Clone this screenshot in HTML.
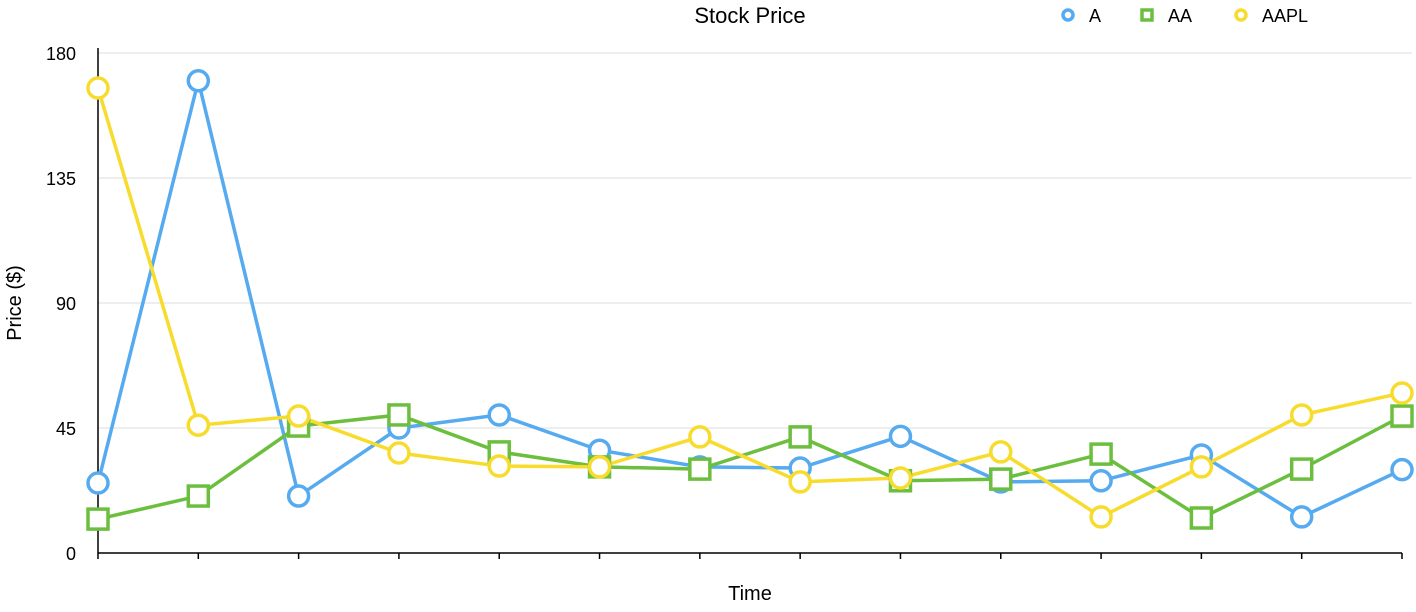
<!DOCTYPE html>
<html><head><meta charset="utf-8"><style>
body{margin:0;background:#fff;font-family:"Liberation Sans",sans-serif;}
svg text{font-family:"Liberation Sans",sans-serif;}
</style></head><body>
<svg id="chart" width="1416" height="607" xmlns="http://www.w3.org/2000/svg">
<text x="750" y="23" text-anchor="middle" font-size="22" fill="#000">Stock Price</text>
<text transform="translate(21,303) rotate(-90)" text-anchor="middle" font-size="20" fill="#000">Price ($)</text>
<text x="750" y="600" text-anchor="middle" font-size="20" fill="#000">Time</text>
<g id="grid"></g><g id="axes"></g><g id="series"></g><g id="legend"></g>
</svg>
<script>
const yTicks=[0,45,90,135,180];
const seriesNames=['A','AA','AAPL'];
const seriesColors=['#55aaf0','#6cbf3e','#f7dc2e'];
const seriesShapes=['circle','square','circle'];
const valuesA=[25.2,170,20.5,45,49.7,37,31,30.6,42,25.6,26,35.3,13,30];
const valuesAA=[12.2,20.5,45.7,49.7,36.4,31,30.2,41.8,26,26.6,35.6,12.6,30.2,49.3];
const valuesAAPL=[167.4,46,49.3,36,31.3,31,41.8,25.6,27,36.4,13,31,49.7,57.6];
const allValues=[valuesA,valuesAA,valuesAAPL];
const NS='http://www.w3.org/2000/svg';
const x0=98,x1=1402,y0=553,y1=53,yMax=180;
const n=valuesA.length;
function xs(i){return x0+i*(x1-x0)/(n-1);}
function ys(v){return y0-(v/yMax)*(y0-y1);}
function mk(t,a,p){const e=document.createElementNS(NS,t);for(const k in a)e.setAttribute(k,a[k]);p.appendChild(e);return e;}
const grid=document.getElementById('grid'),axes=document.getElementById('axes'),ser=document.getElementById('series'),leg=document.getElementById('legend');
yTicks.forEach(t=>{
  if(t>0){const g=mk('line',{x1:x0,x2:x1+10,y1:ys(t),y2:ys(t),stroke:'#dcdcdc','stroke-width':1},grid);
  
  }
  const l=mk('text',{x:76,y:ys(t)+7,'text-anchor':'end','font-size':18,fill:'#000'},axes);l.textContent=t;
  
  
});
const ya=mk('line',{x1:x0,x2:x0,y1:y1-5,y2:y0,stroke:'#000','stroke-width':1.5},axes);


const xa=mk('line',{x1:x0,x2:x1,y1:y0,y2:y0,stroke:'#000','stroke-width':1.5},axes);


for(let i=0;i<n;i++){const t=mk('line',{x1:xs(i),x2:xs(i),y1:y0,y2:y0+6,stroke:'#000','stroke-width':1.5},axes);

}
function marker(shape,x,y,c,p,r){
  let m;
  if(shape==='circle')m=mk('circle',{cx:x,cy:y,r:r,fill:'#fff',stroke:c,'stroke-width':3.5},p);
  else m=mk('rect',{x:x-r,y:y-r,width:2*r,height:2*r,fill:'#fff',stroke:c,'stroke-width':3.5},p);
  return m;
}
allValues.forEach((vals,s)=>{
  const pl=mk('polyline',{points:vals.map((v,i)=>xs(i)+','+ys(v)).join(' '),fill:'none',stroke:seriesColors[s],'stroke-width':3.5},ser);
  
  
});
allValues.forEach((vals,s)=>{
  vals.forEach((v,i)=>{
    const m=marker(seriesShapes[s],xs(i),ys(v),seriesColors[s],ser,10);
    
    
  });
});
const legX=[1068,1147,1241];
seriesNames.forEach((nm,s)=>{
  const m=marker(seriesShapes[s],legX[s],15,seriesColors[s],leg,5);
  
  
  const t=mk('text',{x:legX[s]+21,y:22,'font-size':18,fill:'#000'},leg);t.textContent=nm;
  
  
});
</script>
</body></html>
